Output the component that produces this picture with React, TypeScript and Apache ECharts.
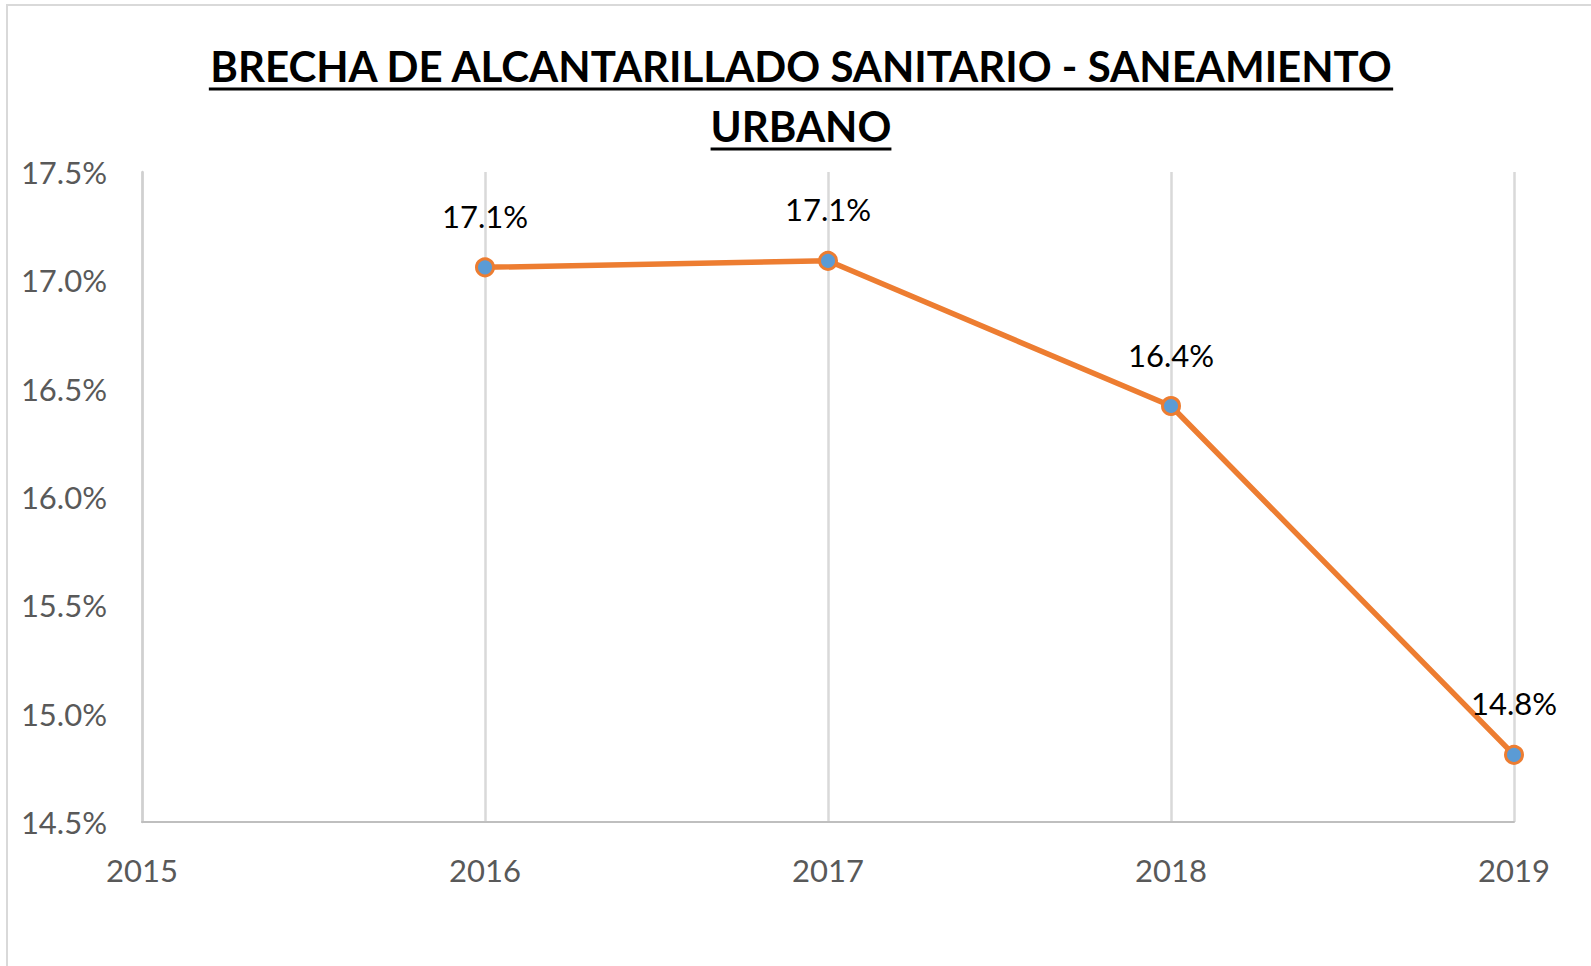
import React, { useEffect, useRef } from "react";
import * as echarts from "echarts";

const years = [2016, 2017, 2018, 2019];
const gapValues = [0.1706, 0.1709, 0.1642, 0.1481];
const titleLines = ["BRECHA DE ALCANTARILLADO SANITARIO - SANEAMIENTO", "URBANO"];

const FONT = "Lato, 'Open Sans', sans-serif";

function measure(text: string, font: string): number {
  const c = document.createElement("canvas");
  const ctx = c.getContext("2d");
  if (!ctx) return text.length * 24;
  ctx.font = font;
  return ctx.measureText(text).width;
}

export default function App() {
  const ref = useRef<HTMLDivElement>(null);
  useEffect(() => {
    if (!ref.current) return;
    document.body.style.margin = "0";
    const chart = echarts.init(ref.current, undefined, { renderer: "svg" });
    const titleFont = "bold 42px Lato";
    const cx = 801;
    const titleY = [66, 126];
    const ulY = [89, 149];
    const graphics: any[] = [
      {
        type: "rect",
        silent: true,
        z: -10,
        shape: { x: 7, y: 5, width: 1700, height: 1100 },
        style: { fill: "none", stroke: "#D9D9D9", lineWidth: 2 },
      },
    ];
    titleLines.forEach((t, i) => {
      const w = measure(t, titleFont);
      graphics.push({
        type: "text",
        x: cx,
        y: titleY[i],
        style: {
          text: t,
          fontSize: 42,
          fontWeight: "bold",
          fontFamily: FONT,
          fill: "#000",
          textAlign: "center",
          textVerticalAlign: "middle",
          align: "center",
          verticalAlign: "middle",
        },
      });
      graphics.push({
        type: "line",
        shape: { x1: cx - w / 2, y1: ulY[i], x2: cx + w / 2, y2: ulY[i] },
        style: { stroke: "#000", lineWidth: 3 },
      });
    });

    chart.setOption({
      animation: false,
      backgroundColor: "#fff",
      graphic: graphics,
      grid: { left: 142, right: 77, top: 172, bottom: 144, containLabel: false },
      xAxis: {
        type: "value",
        min: 2015,
        max: 2019,
        interval: 1,
        axisLine: { show: true, lineStyle: { color: "#BFBFBF", width: 2 } },
        axisTick: { show: false },
        axisLabel: {
          color: "#595959",
          fontSize: 31,
          fontFamily: FONT,
          margin: 32,
          formatter: (v: number) => String(v),
        },
        splitLine: { show: true, lineStyle: { color: "#D9D9D9", width: 2.5 } },
      },
      yAxis: {
        type: "value",
        min: 0.145,
        max: 0.175,
        interval: 0.005,
        axisLine: { show: true, lineStyle: { color: "#D0D0D0", width: 2.5 } },
        axisTick: { show: false },
        splitLine: { show: false },
        axisLabel: {
          color: "#595959",
          fontSize: 31,
          fontFamily: FONT,
          margin: 35,
          formatter: (v: number) => (v * 100).toFixed(1) + "%",
        },
      },
      series: [
        {
          type: "line",
          data: years.map((y, i) => [y, gapValues[i]]),
          symbol: "circle",
          symbolSize: 17,
          lineStyle: { color: "#ED7D31", width: 5.5 },
          itemStyle: { color: "#5B9BD5", borderColor: "#ED7D31", borderWidth: 3 },
          label: {
            show: true,
            position: "top",
            distance: 26,
            color: "#000",
            fontSize: 31,
            fontFamily: FONT,
            formatter: (p: any) => (p.value[1] * 100).toFixed(1) + "%",
          },
          z: 5,
        },
      ],
    });
    return () => chart.dispose();
  }, []);
  return (
    <div
      ref={ref}
      style={{ position: "fixed", left: 0, top: 0, width: 1591, height: 966 }}
    />
  );
}
